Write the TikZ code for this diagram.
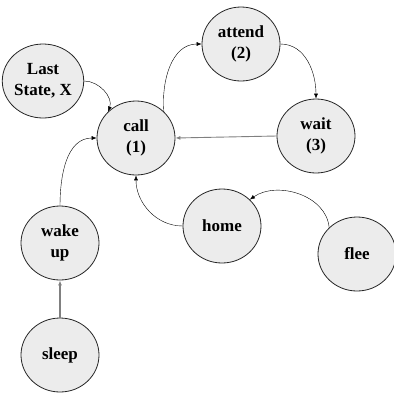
\documentclass[tikz,border=0pt]{standalone}
\usepackage{fontspec}
\setmainfont{Liberation Serif}
\usetikzlibrary{shapes.geometric,arrows.meta}

\begin{document}
\begin{tikzpicture}[every node/.style={ellipse, draw=black!85, thick, fill=gray!15, minimum width=78pt, minimum height=74pt, inner sep=0pt, align=center, font=\fontsize{17}{21}\selectfont\bfseries}, >={Latex[length=5pt,width=4pt]}]
  \useasboundingbox (0pt, 0pt) rectangle (394pt, -392pt);
  \node (last) at (43pt, -81pt) {Last\\State, X};
  \node (call) at (136pt, -138pt) {call\\(1)};
  \node (attend) at (241pt, -44pt) {attend\\(2)};
  \node (wait) at (316pt, -136pt) {wait\\(3)};
  \node (wake) at (60pt, -243pt) {wake\\up};
  \node (sleep) at (60pt, -355pt) {sleep};
  \node (home) at (222pt, -226pt) {home};
  \node (flee) at (357pt, -254pt) {flee};
  \draw[->] (last.east) to[out=0, in=70] (call.north west);
  \draw[->] (call.north east) to[out=95, in=180] (attend.west);
  \draw[->] (attend.east) to[out=0, in=90] (wait.north);
  \draw[->, gray, line width=0.9pt] (wait.west) -- (call.east);
  \draw[->] (wake.north) to[out=90, in=180] (call.west);
  \draw[->, gray, line width=1.6pt] (sleep.north) -- (wake.south);
  \draw[->] (home.west) to[out=180, in=-90] (call.south);
  \draw[->] (flee.north west) to[out=95, in=35] (home.north east);
\end{tikzpicture}
\end{document}
